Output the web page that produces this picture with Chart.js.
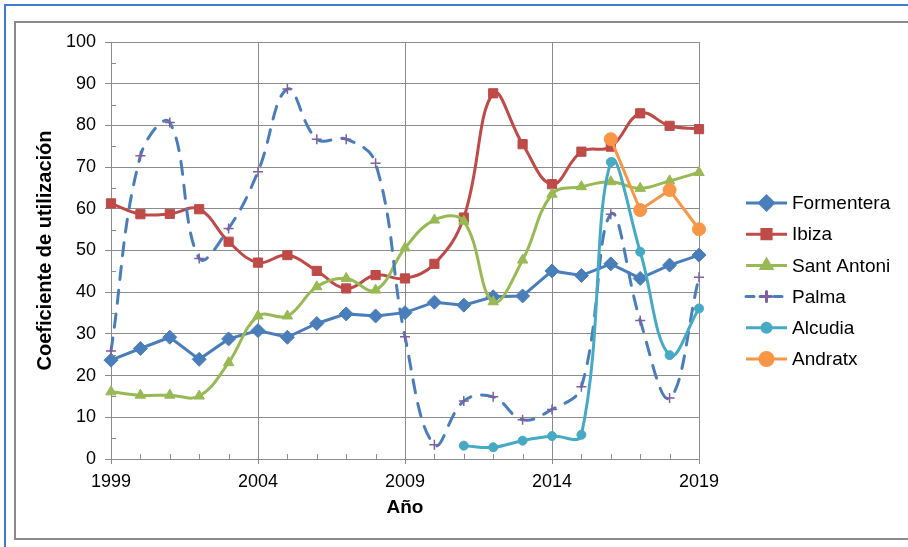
<!DOCTYPE html>
<html>
<head>
<meta charset="utf-8">
<script src="https://cdn.jsdelivr.net/npm/chart.js@4.4.1/dist/chart.umd.min.js"></script>
<style>
  html, body { margin: 0; padding: 0; background: #fff; }
</style>
</head>
<body>
<canvas id="coefChart" width="908" height="547"></canvas>
<script>
// Años del eje X
const years = ['1999', '2000', '2001', '2002', '2003', '2004', '2005', '2006', '2007', '2008',
               '2009', '2010', '2011', '2012', '2013', '2014', '2015', '2016', '2017', '2018', '2019'];

// Coeficiente de utilización por puerto
const formentera = [23.7, 26.5, 29.2, 23.9, 28.8, 30.8, 29.2, 32.5, 34.8, 34.3, 35.1,
                    37.6, 36.9, 38.9, 39.1, 45.1, 44.0, 46.8, 43.3, 46.5, 48.9];
const ibiza = [61.3, 58.7, 58.8, 59.9, 52.1, 47.1, 48.9, 45.1, 40.9, 44.1, 43.3,
               46.8, 57.9, 87.7, 75.5, 65.9, 73.7, 74.9, 82.9, 79.9, 79.1];
const santAntoni = [16.1, 15.3, 15.3, 15.1, 23.1, 34.3, 34.3, 41.3, 43.3, 40.5, 50.6,
                    57.3, 57.0, 37.7, 47.7, 63.5, 65.3, 66.5, 64.9, 66.7, 68.7];
const palma = [25.9, 72.7, 80.7, 48.1, 55.3, 68.9, 88.7, 76.7, 76.7, 70.9, 29.3,
               3.4, 13.9, 14.9, 9.4, 11.9, 17.3, 58.7, 33.2, 14.6, 43.6];
const alcudia = [null, null, null, null, null, null, null, null, null, null, null,
                 null, 3.2, 2.8, 4.4, 5.5, 5.8, 71.2, 49.7, 24.9, 36.1];
const andratx = [null, null, null, null, null, null, null, null, null, null, null,
                 null, null, null, null, null, null, 76.7, 59.7, 64.5, 55.1];

// Ticks del eje Y
const yTicks = [0, 10, 20, 30, 40, 50, 60, 70, 80, 90, 100];

const FONT = "'Liberation Sans', Arial, sans-serif";
const GRID = '#8c8c8c';

Chart.defaults.font.family = FONT;
Chart.defaults.font.size = 18;
Chart.defaults.color = '#000';

// marcos exteriores del gráfico
const framePlugin = {
    id: 'frame',
    beforeDraw(chart) {
        const c = chart.ctx;
        c.save();
        c.fillStyle = '#fff';
        c.fillRect(0, 0, chart.width, chart.height);
        c.strokeStyle = '#3d7cc9';
        c.lineWidth = 2;
        c.beginPath();
        c.moveTo(5, chart.height + 5);
        c.lineTo(5, 5);
        c.lineTo(chart.width + 5, 5);
        c.stroke();
        c.strokeStyle = '#8a8a8a';
        c.lineWidth = 2;
        c.strokeRect(15, 22, chart.width + 20, 517);
        c.restore();
    }
};

// marcas secundarias hacia dentro
const minorTicks = {
    id: 'minorTicks',
    afterDatasetsDraw(chart) {
        const c = chart.ctx;
        const x = chart.scales.x, y = chart.scales.y;
        c.save();
        c.strokeStyle = GRID;
        c.lineWidth = 1;
        c.beginPath();
        for (let v = 5; v < 100; v += 10) {
            const py = Math.round(y.getPixelForValue(v)) + 0.5;
            c.moveTo(x.left, py);
            c.lineTo(x.left + 5, py);
        }
        years.forEach((yr, i) => {
            if (i % 5 === 0) return;
            const px = Math.round(x.getPixelForValue(i)) + 0.5;
            c.moveTo(px, y.bottom);
            c.lineTo(px, y.bottom - 5);
        });
        c.stroke();
        c.restore();
    }
};

// leyenda con línea y marcador
const sideLegend = {
    id: 'sideLegend',
    afterDraw(chart) {
        const c = chart.ctx;
        const x0 = 745, x1 = 788, top = 203, step = 31.2;
        c.save();
        chart.data.datasets.forEach((ds, i) => {
            const y = top + i * step;
            c.strokeStyle = ds.borderColor;
            c.lineWidth = ds.borderWidth;
            c.setLineDash(ds.borderDash ? [8, 6] : []);
            c.lineCap = ds.borderDash ? 'round' : 'butt';
            c.beginPath();
            c.moveTo(x0 + 1, y);
            c.lineTo(x1 - 1, y);
            c.stroke();
            c.setLineDash([]);
            c.fillStyle = ds.pointBackgroundColor;
            c.strokeStyle = ds.pointBorderColor;
            Chart.helpers.drawPoint(c, {
                pointStyle: ds.pointStyle,
                radius: ds.pointRadius,
                rotation: 0,
                borderWidth: ds.pointBorderWidth
            }, (x0 + x1) / 2, y);
            c.fillStyle = '#000';
            c.font = '19px ' + FONT;
            c.textBaseline = 'middle';
            c.fillText(ds.label, x1 + 4, y + 1);
        });
        c.restore();
    }
};

function serie(label, data, color, style, radius, extra) {
    return Object.assign({
        label: label,
        data: data,
        borderColor: color,
        backgroundColor: color,
        pointBackgroundColor: color,
        pointBorderColor: color,
        pointStyle: style,
        pointRadius: radius,
        pointBorderWidth: 1,
        borderWidth: 3,
        tension: 0.4
    }, extra || {});
}

new Chart(document.getElementById('coefChart'), {
    type: 'line',
    data: {
        labels: years,
        datasets: [
            serie('Formentera', formentera, '#4a7ebb', 'rectRot', 7, { tension: 0, order: 5 }),
            serie('Ibiza', ibiza, '#be4b48', 'rect', 6.5, { order: 4 }),
            serie('Sant Antoni', santAntoni, '#98b954', 'triangle', 6, { order: 3 }),
            serie('Palma', palma, '#4a7ebb', 'cross', 5, {
                borderDash: [13, 11],
                borderCapStyle: 'round',
                pointBorderColor: '#7f5fa0',
                pointBackgroundColor: '#7f5fa0',
                pointBorderWidth: 1.5,
                order: 2
            }),
            serie('Alcudia', alcudia, '#46aac5', 'circle', 4.5, { order: 1 }),
            serie('Andratx', andratx, '#f79646', 'circle', 6.5, { tension: 0, order: 0 })
        ]
    },
    options: {
        responsive: false,
        animation: false,
        layout: { padding: { left: 24, top: 42, right: 209, bottom: 20 } },
        plugins: {
            legend: { display: false },
            tooltip: { enabled: false }
        },
        scales: {
            x: {
                type: 'category',
                offset: false,
                grid: {
                    offset: false,
                    color: ctx => ctx.index % 5 === 0 ? GRID : 'transparent',
                    tickColor: ctx => ctx.index % 5 === 0 ? GRID : 'transparent',
                    tickLength: 5
                },
                border: { color: GRID },
                ticks: {
                    autoSkip: false,
                    maxRotation: 0,
                    padding: 7,
                    callback: (v, i) => i % 5 === 0 ? years[i] : ''
                },
                title: {
                    display: true,
                    text: 'Año',
                    font: { size: 19, weight: 'bold' },
                    padding: { top: 0, bottom: 8 }
                },
                afterFit: s => { s.height = 68; }
            },
            y: {
                min: 0,
                max: 100,
                afterBuildTicks: s => { s.ticks = yTicks.map(v => ({ value: v })); },
                grid: { color: GRID, tickColor: GRID, tickLength: 6 },
                border: { color: GRID },
                ticks: { padding: 9 },
                title: {
                    display: true,
                    text: 'Coeficiente de utilización',
                    font: { size: 20, weight: 'bold' },
                    padding: { top: 9, bottom: 0 }
                },
                afterFit: s => { s.width = 87; }
            }
        }
    },
    plugins: [framePlugin, minorTicks, sideLegend]
});
</script>
</body>
</html>
